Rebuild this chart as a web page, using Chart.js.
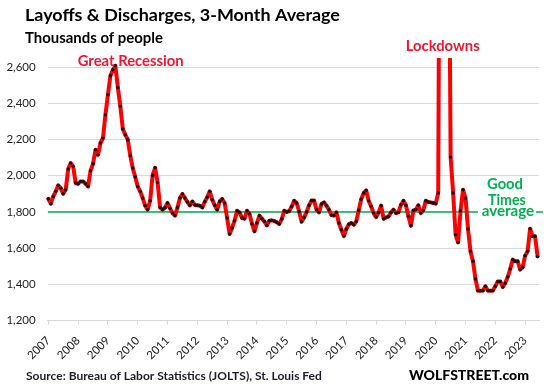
<!DOCTYPE html>
<html>
<head>
<meta charset="utf-8">
<script src="https://cdn.jsdelivr.net/npm/chart.js@4/dist/chart.umd.min.js"></script>
<style>
html,body{margin:0;padding:0;background:#fff;}
#wrap{width:544px;height:387px;position:relative;}
canvas{display:block;}
</style>
</head>
<body>
<div id="wrap"><canvas id="c" width="544" height="387"></canvas></div>
<script>
// ---------------- data ----------------
const START_YEAR = 2007;            // first month = Jan 2007, one value per month
const YEAR_LABELS = ['2007','2008','2009','2010','2011','2012','2013','2014','2015',
                     '2016','2017','2018','2019','2020','2021','2022','2023'];
const Y_TICKS = [1200, 1400, 1600, 1800, 2000, 2200, 2400, 2600];
// Layoffs & discharges, 3-month average, thousands (Jan 2007 .. Jun 2023)
const LAYOFFS_3MO_AVG = [
  1873,1846,1886,1914,1947,1932,1901,1923,2037,2070,2052,1960,
  1956,1969,1969,1956,1941,2028,2066,2144,2116,2181,2208,2337,
  2447,2552,2585,2607,2487,2383,2258,2226,2199,2111,2043,1993,
  1941,1914,1877,1835,1813,1862,2002,2044,1963,1825,1813,1824,
  1850,1820,1794,1780,1825,1877,1899,1877,1855,1837,1858,1839,
  1837,1835,1825,1857,1881,1914,1868,1837,1813,1858,1872,1850,
  1767,1679,1712,1752,1807,1798,1767,1763,1807,1791,1735,1693,
  1739,1780,1763,1748,1726,1752,1754,1750,1743,1734,1761,1807,
  1800,1805,1830,1862,1850,1803,1746,1770,1800,1837,1864,1864,
  1813,1798,1844,1853,1835,1813,1783,1780,1798,1739,1702,1667,
  1706,1732,1739,1730,1748,1810,1870,1905,1919,1862,1831,1794,
  1772,1798,1835,1763,1770,1775,1798,1813,1794,1798,1840,1862,
  1837,1776,1724,1809,1813,1837,1794,1809,1862,1855,1853,1850,
  1846,1905,5100,7400,7500,4100,2103,1905,1675,1632,1807,1923,
  1877,1706,1583,1528,1430,1366,1366,1366,1390,1366,1366,1366,
  1390,1417,1417,1386,1408,1441,1486,1537,1528,1528,1482,1495,
  1559,1583,1708,1666,1666,1555
];
const GOOD_TIMES_AVERAGE = [1800, 1800];

const TITLE = 'Layoffs & Discharges, 3-Month Average';
const SUBTITLE = 'Thousands of people';
const SOURCE = 'Source: Bureau of Labor Statistics (JOLTS), St. Louis Fed';
const BRAND = 'WOLFSTREET.com';

// ---------------- styling / layout ----------------
const FONT = 'Lato, "Open Sans", "DejaVu Sans", sans-serif';
const RED = '#ff0000';
const LABEL_RED = '#ef1830';
const GREEN = '#00b050';
const GRID = '#d9d9d9';
const X_MIN = -0.25, X_MAX = 197.6;

const texts = [
  {t: TITLE,    x: 25,  y: 21,   w: 315, weight: 'bold', color: '#000'},
  {t: SUBTITLE, x: 25,  y: 43,   w: 138, weight: 'bold', color: '#000'},
  {t: 'Great Recession', x: 77.7, y: 66, w: 106, weight: 'bold', color: LABEL_RED},
  {t: 'Lockdowns', x: 405.7, y: 50.5, w: 74, weight: 'bold', color: LABEL_RED},
  {t: 'Good',    x: 487,   y: 189.3, w: 36,   weight: 'bold', color: GREEN},
  {t: 'Times',   x: 488,   y: 204.5, w: 37.7, weight: 'bold', color: GREEN},
  {t: 'average', x: 481.7, y: 215.5, w: 52.5, weight: 'bold', color: GREEN},
  {t: SOURCE,   x: 26,  y: 380,  w: 296, weight: 'bold', color: '#1c1c2c'},
  {t: BRAND,    x: 409, y: 380,  w: 120, weight: '900',  color: '#000'}
];

function fitSize(ctx, text, weight, target) {
  const base = 20;
  ctx.font = weight + ' ' + base + 'px ' + FONT;
  return base * target / ctx.measureText(text).width;
}

const textPlugin = {
  id: 'texts',
  afterDatasetsDraw(chart) {
    const ctx = chart.ctx;
    // white box behind "average" that interrupts the green line
    ctx.save();
    ctx.fillStyle = '#fff';
    ctx.fillRect(478, 208, 58, 9);
    ctx.restore();
  },
  afterDraw(chart) {
    const ctx = chart.ctx;
    ctx.save();
    ctx.textAlign = 'left';
    ctx.textBaseline = 'alphabetic';
    texts.forEach(s => {
      const size = fitSize(ctx, s.t, s.weight, s.w);
      ctx.font = s.weight + ' ' + size.toFixed(2) + 'px ' + FONT;
      ctx.fillStyle = s.color;
      ctx.fillText(s.t, s.x, s.y);
    });
    ctx.restore();
  }
};

const ctx = document.getElementById('c').getContext('2d');
new Chart(ctx, {
  type: 'line',
  data: {
    datasets: [
      {
        label: 'Layoffs & Discharges, 3-month average',
        data: LAYOFFS_3MO_AVG.map((v, i) => ({x: i, y: v})),
        borderColor: RED,
        borderWidth: 4,
        tension: 0,
        borderJoinStyle: 'round',
        borderCapStyle: 'round',
        pointRadius: 1.7,
        pointBackgroundColor: '#111',
        pointBorderWidth: 0,
        clip: {left: 4, right: 4, top: 0, bottom: 4}
      },
      {
        label: 'Good Times average',
        data: [{x: X_MIN, y: GOOD_TIMES_AVERAGE[0]}, {x: X_MAX + 1.6, y: GOOD_TIMES_AVERAGE[1]}],
        borderColor: GREEN,
        borderWidth: 1.3,
        pointRadius: 0,
        clip: {left: 0, right: 5, top: 0, bottom: 0}
      }
    ]
  },
  options: {
    responsive: false,
    animation: false,
    devicePixelRatio: 1,
    events: [],
    layout: {padding: {top: 58, right: 4, bottom: 0, left: 0}},
    plugins: {legend: {display: false}, tooltip: {enabled: false}, title: {display: false}},
    scales: {
      x: {
        type: 'linear',
        min: X_MIN,
        max: X_MAX,
        afterBuildTicks: (axis) => { axis.ticks = YEAR_LABELS.map((_, k) => ({value: k * 12})); },
        afterFit: (axis) => { axis.height = 66.3; },
        grid: {display: true, drawOnChartArea: false, drawTicks: true, tickLength: 4, color: GRID},
        border: {display: true, color: GRID, width: 1},
        ticks: {
          autoSkip: false,
          maxRotation: 45,
          minRotation: 45,
          padding: 9,
          color: '#222',
          font: {family: FONT, size: 11.5},
          callback: (v, i) => YEAR_LABELS[i]
        }
      },
      y: {
        type: 'linear',
        min: 1200,
        max: 2650,
        afterBuildTicks: (axis) => { axis.ticks = Y_TICKS.map(v => ({value: v})); },
        afterFit: (axis) => { axis.width = 47.7; },
        grid: {color: GRID, drawTicks: false, lineWidth: 1},
        border: {display: false},
        ticks: {
          padding: 12,
          color: '#222',
          font: {family: FONT, size: 11.5},
          callback: (v) => v.toLocaleString('en-US')
        }
      }
    }
  },
  plugins: [textPlugin]
});
</script>
</body>
</html>
